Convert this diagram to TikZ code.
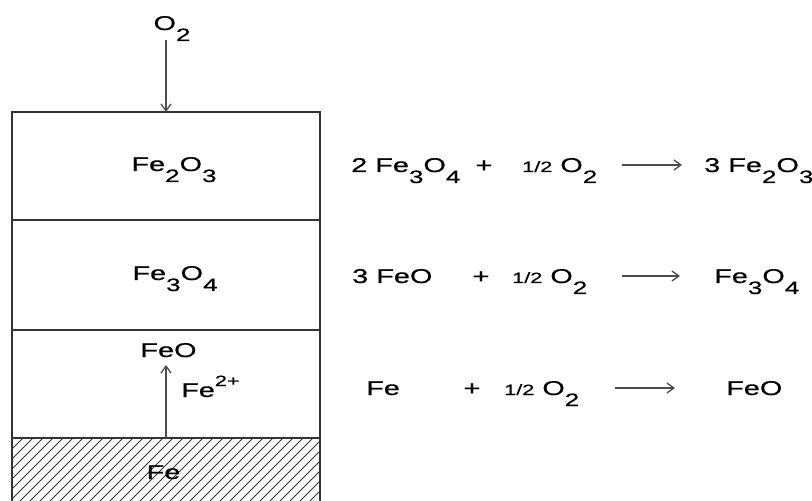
\documentclass[tikz,border=0pt]{standalone}
\usepackage{fontspec}
\usetikzlibrary{arrows.meta}
\setmainfont[FakeStretch=1.45,FakeBold=0.6]{Liberation Sans}
\newcommand{\sbs}[1]{\raisebox{-11bp}{\fontsize{18}{18}\selectfont #1}}
\newcommand{\sps}[1]{\raisebox{11bp}{\fontsize{15}{15}\selectfont #1}}
\newcommand{\hlf}{{\fontsize{15}{15}\selectfont 1/2}}
\begin{document}
\begin{tikzpicture}[x=1bp,y=-1bp,
  lbl/.style={font=\fontsize{20}{20}\selectfont, inner sep=0pt, anchor=base},
  lft/.style={lbl, anchor=base west},
  arr/.style={draw=black!70, line width=1.3bp, -{Straight Barb[length=7bp,width=10bp]}},
  layer/.style={draw=black!80, line width=1.3bp}]
\useasboundingbox (0,0) rectangle (812,501);
% hatching
\begin{scope}
\clip (12,438) rectangle (320,501);
\foreach \i in {-80,-70,...,330} {
  \draw[black!80, line width=0.8bp] (\i,501) -- (\i+70,431);
}
\end{scope}
% box
\draw[layer] (12,501) -- (12,112) -- (320,112) -- (320,501);
\draw[layer] (12,220) -- (320,220);
\draw[layer] (12,330) -- (320,330);
\draw[layer] (12,438) -- (320,438);
% labels in box
\node[lbl] (o2top) at (172,30) {O\sbs{2}};
\coordinate (topin) at (166,112);
\coordinate (o2s) at (166,40);
\draw[arr] (o2s) -- (topin);
\node[lbl] (fe2o3) at (174,171) {Fe\sbs{2}O\sbs{3}};
\node[lbl] (fe3o4) at (175,280) {Fe\sbs{3}O\sbs{4}};
\node[lbl] (feo) at (168.5,357) {FeO};
\node[lft] (fe2p) at (181,397) {Fe\sps{2+}};
\node[lbl] (fe) at (163.5,479) {Fe};
\coordinate (febot) at (166,438);
\coordinate (fetop) at (166,365);
\draw[arr] (febot) -- (fetop);
% equations row 1
\node[lft] (r1a) at (351,172) {2 Fe\sbs{3}O\sbs{4}};
\node[lbl] (r1p) at (484,172) {+};
\node[lft] (r1b) at (522,172) {\hlf\ O\sbs{2}};
\node[lft] (r1c) at (704,172) {3 Fe\sbs{2}O\sbs{3}};
\coordinate (r1s) at (622,165);
\coordinate (r1e) at (682,165);
\draw[arr] (r1s) -- (r1e);
% row 2
\node[lft] (r2a) at (352,283) {3 FeO};
\node[lbl] (r2p) at (481,283) {+};
\node[lft] (r2b) at (512,283) {\hlf\ O\sbs{2}};
\node[lft] (r2c) at (714,283) {Fe\sbs{3}O\sbs{4}};
\coordinate (r2s) at (622,276);
\coordinate (r2e) at (680,276);
\draw[arr] (r2s) -- (r2e);
% row 3
\node[lft] (r3a) at (366,395) {Fe};
\node[lbl] (r3p) at (472,395) {+};
\node[lft] (r3b) at (504,395) {\hlf\ O\sbs{2}};
\node[lft] (r3c) at (726,395) {FeO};
\coordinate (r3s) at (615,388);
\coordinate (r3e) at (675,388);
\draw[arr] (r3s) -- (r3e);
\end{tikzpicture}
\end{document}
